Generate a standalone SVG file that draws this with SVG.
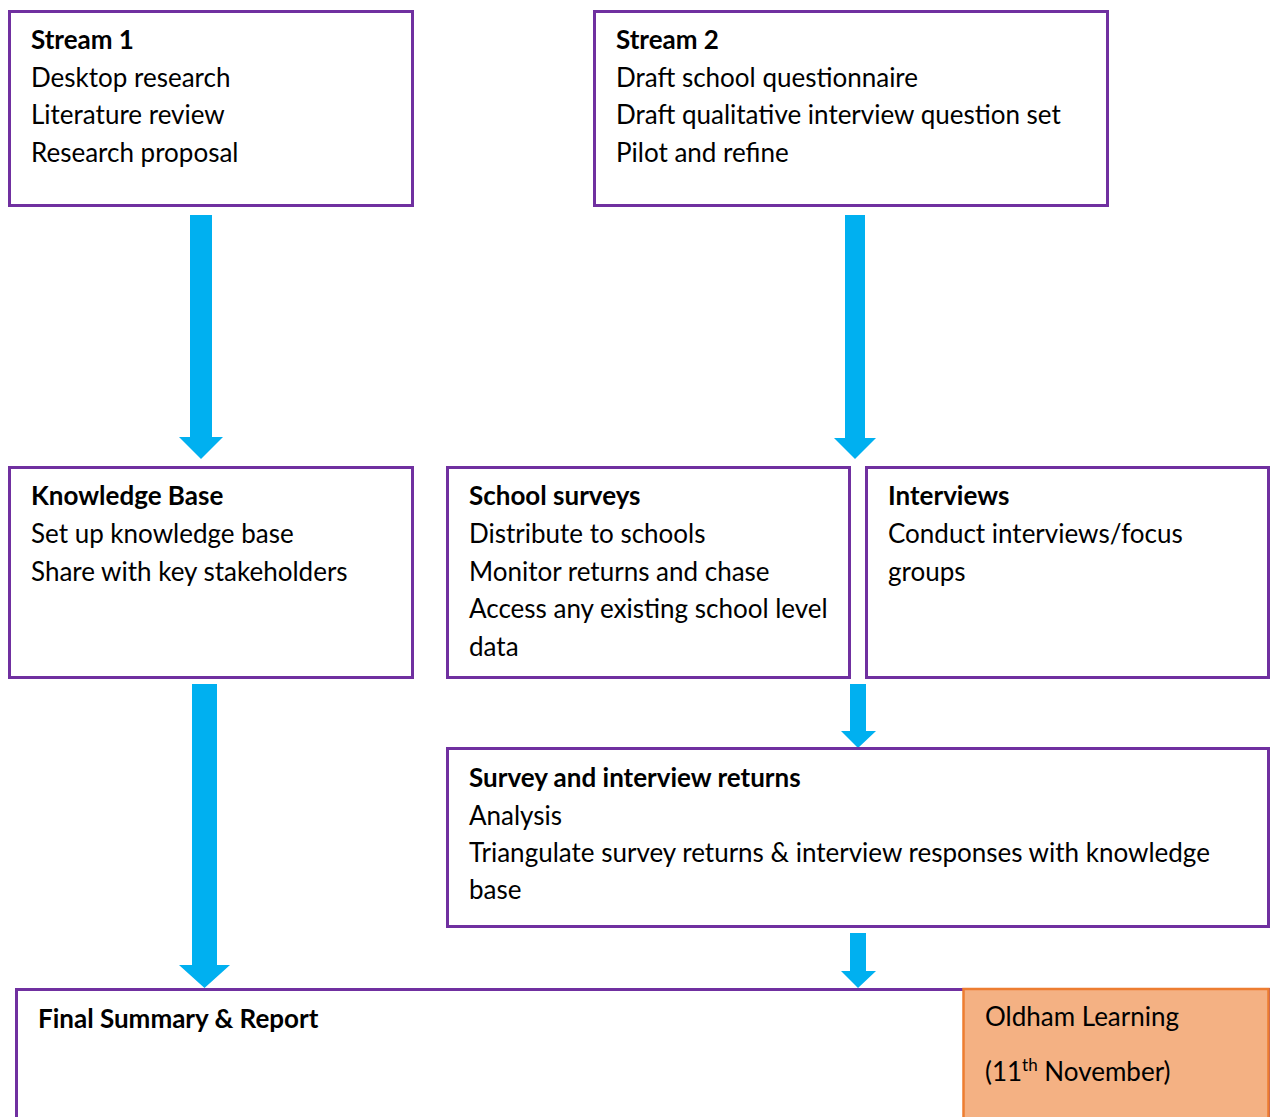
<svg xmlns="http://www.w3.org/2000/svg" width="1271" height="1117" viewBox="0 0 1271 1117">
<style>
.box{fill:#fff;stroke:#7030A0;stroke-width:3}
.org{fill:#F4B183;stroke:#ED7D31;stroke-width:2.5}
text{font-family:Lato,"Liberation Sans",sans-serif;font-size:26px;fill:#000}
.b{font-weight:bold}
.arr{fill:#00B0F0}
</style>
<rect width="1271" height="1117" fill="#fff"/>
<g id="connectors">
<polygon class="arr" points="190,215 212,215 212,437 223,437 201,459 179,437 190,437"/>
<polygon class="arr" points="845,215 865,215 865,438 876,438 855,459 834,438 845,438"/>
<polygon class="arr" points="192,684 217,684 217,965 230,965 204.5,988 179,965 192,965"/>
<polygon class="arr" points="850,684 866,684 866,731 876,731 858,748 841,731 850,731"/>
<polygon class="arr" points="850,933 866,933 866,971 876,971 858,988 841,971 850,971"/>
</g>
<g id="stream1">
<rect class="box" x="9.5" y="11.5" width="403" height="194"/>
<text class="b" x="31" y="49">Stream 1</text>
<text x="31" y="87">Desktop research</text>
<text x="31" y="124">Literature review</text>
<text x="31" y="162">Research proposal</text>
</g>
<g id="stream2">
<rect class="box" x="594.5" y="11.5" width="513" height="194"/>
<text class="b" x="616" y="49">Stream 2</text>
<text x="616" y="87">Draft school questionnaire</text>
<text x="616" y="124">Draft qualitative interview question set</text>
<text x="616" y="162">Pilot and refine</text>
</g>
<g id="knowledge">
<rect class="box" x="9.5" y="467.5" width="403" height="210"/>
<text class="b" x="31" y="505">Knowledge Base</text>
<text x="31" y="543">Set up knowledge base</text>
<text x="31" y="581">Share with key stakeholders</text>
</g>
<g id="surveys">
<rect class="box" x="447.5" y="467.5" width="402" height="210"/>
<text class="b" x="469" y="505">School surveys</text>
<text x="469" y="543">Distribute to schools</text>
<text x="469" y="581">Monitor returns and chase</text>
<text x="469" y="618">Access any existing school level</text>
<text x="469" y="656">data</text>
</g>
<g id="interviews">
<rect class="box" x="866.5" y="467.5" width="402" height="210"/>
<text class="b" x="888" y="505">Interviews</text>
<text x="888" y="543">Conduct interviews/focus</text>
<text x="888" y="581">groups</text>
</g>
<g id="returns">
<rect class="box" x="447.5" y="748.5" width="821" height="178"/>
<text class="b" x="469" y="787">Survey and interview returns</text>
<text x="469" y="825">Analysis</text>
<text x="469" y="862">Triangulate survey returns &amp; interview responses with knowledge</text>
<text x="469" y="899">base</text>
</g>
<g id="final">
<rect class="box" x="16.5" y="989.5" width="1252" height="140"/>
<text class="b" x="38" y="1028">Final Summary &amp; Report</text>
</g>
<g id="oldham">
<rect class="org" x="963.5" y="989" width="305" height="140"/>
<text x="985" y="1026">Oldham Learning</text>
<text x="985" y="1081">(11<tspan font-size="17" dy="-10">th</tspan><tspan dy="10"> November)</tspan></text>
</g>
</svg>
